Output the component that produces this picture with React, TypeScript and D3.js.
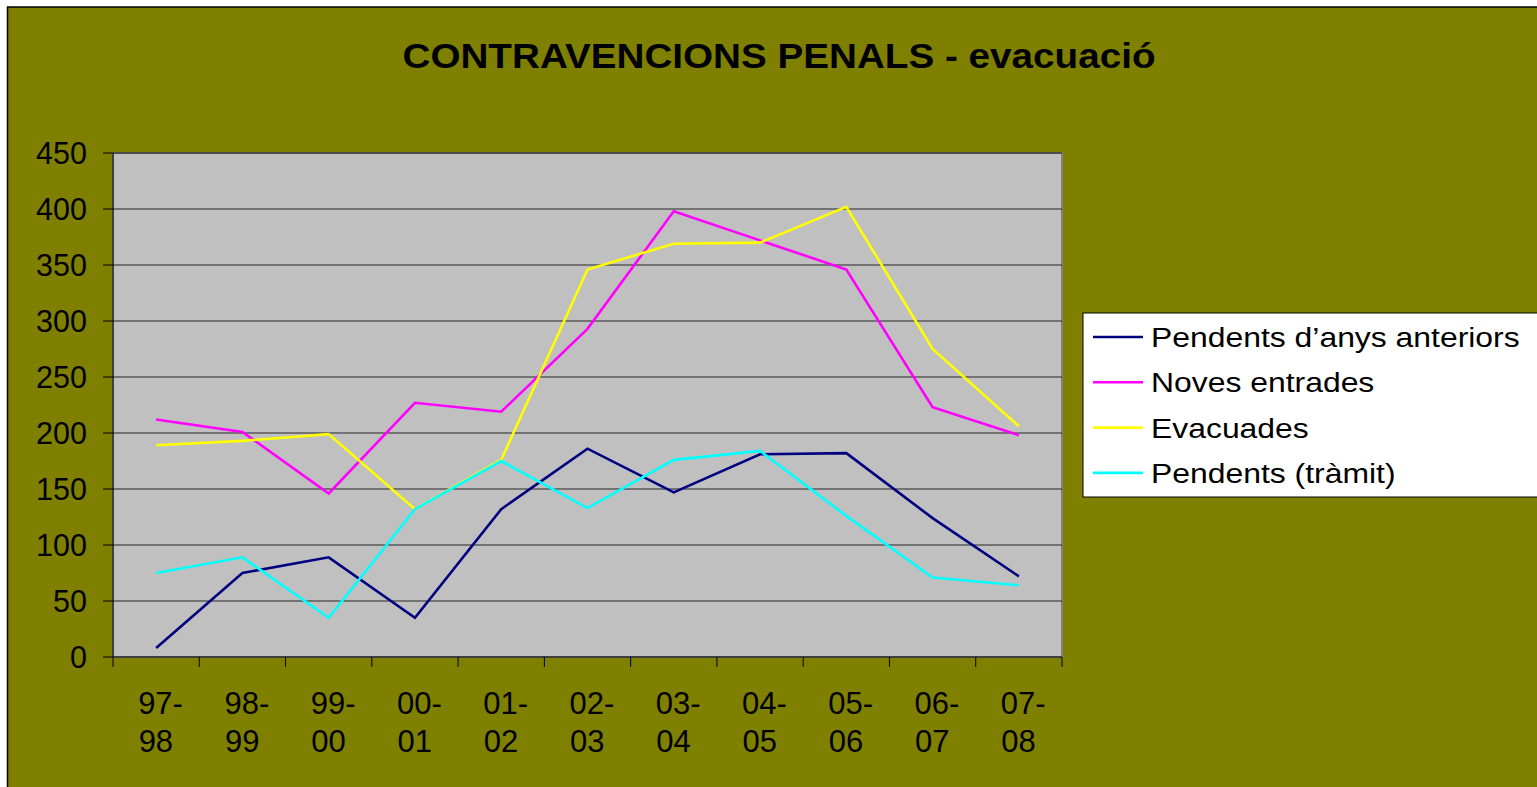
import React from "react";
import * as d3 from "d3";

const categories = ["97-98", "98-99", "99-00", "00-01", "01-02", "02-03", "03-04", "04-05", "05-06", "06-07", "07-08"];
const pendentsAnteriors = [8, 75, 89, 35, 132, 186, 147, 181, 182, 124, 72];
const novesEntrades = [212, 201, 146, 227, 219, 293, 398, 372, 346, 223, 198];
const evacuades = [189, 193, 199, 132, 176, 346, 369, 370, 402, 275, 206];
const pendentsTramit = [75, 89, 35, 132, 175, 133, 176, 184, 126, 71, 64];
const yTicks = [0, 50, 100, 150, 200, 250, 300, 350, 400, 450];
const seriesNames = ["Pendents d\u2019anys anteriors", "Noves entrades", "Evacuades", "Pendents (tr\u00e0mit)"];
const seriesColors = ["#000080", "#FF00FF", "#FFFF00", "#00FFFF"];
const title = "CONTRAVENCIONS PENALS - evacuaci\u00f3";

const W = 1537;
const H = 787;
const plot = { left: 113, right: 1062, top: 153, bottom: 657 };
const FONT = "'Liberation Sans', Arial, Helvetica, sans-serif";

export default function App() {
  const series = [pendentsAnteriors, novesEntrades, evacuades, pendentsTramit];
  const x = d3.scaleBand<string>().domain(categories).range([plot.left, plot.right]).padding(0);
  const y = d3.scaleLinear().domain([0, 450]).range([plot.bottom, plot.top]);
  const line = d3
    .line<number>()
    .x((_, i) => (x(categories[i]) as number) + x.bandwidth() / 2)
    .y((d) => y(d));
  const xTickPos = [...categories.map((c) => x(c) as number), plot.right];

  const legend = { x: 1083, y: 313, w: 470, h: 184, rowStart: 337, rowStep: 45.3 };

  return (
    <div style={{ position: "fixed", left: 0, top: 0, width: W, height: H, overflow: "hidden", background: "#fff" }}>
      <svg width={W} height={H} style={{ display: "block" }} fontFamily={FONT}>
        <rect x={7.5} y={7} width={W + 10} height={H + 10} fill="#808000" stroke="#000" strokeWidth={1.5} />
        <text
          x={779}
          y={67.5}
          textAnchor="middle"
          fontSize={34.5}
          fontWeight="bold"
          textLength={753}
          lengthAdjust="spacingAndGlyphs"
          fill="#000"
        >
          {title}
        </text>

        {/* plot area */}
        <rect
          x={plot.left}
          y={plot.top}
          width={plot.right - plot.left}
          height={plot.bottom - plot.top}
          fill="#C0C0C0"
          stroke="#808080"
          strokeWidth={2}
        />
        {yTicks
          .filter((t) => t > 0)
          .map((t) => (
            <line key={"g" + t} x1={plot.left} x2={plot.right} y1={y(t)} y2={y(t)} stroke="#000" strokeWidth={1} opacity={0.8} />
          ))}

        {/* axes */}
        <line x1={plot.left} x2={plot.left} y1={plot.top} y2={plot.bottom} stroke="#000" strokeWidth={1} />
        <line x1={plot.left} x2={plot.right} y1={plot.bottom} y2={plot.bottom} stroke="#000" strokeWidth={1} />
        {yTicks.map((t) => (
          <g key={"yt" + t}>
            <line x1={plot.left - 10} x2={plot.left} y1={y(t)} y2={y(t)} stroke="#000" strokeWidth={1} />
            <text x={87} y={y(t) + 11} textAnchor="end" fontSize={30.5} fill="#000">
              {t}
            </text>
          </g>
        ))}
        {xTickPos.map((p, i) => (
          <line key={"xt" + i} x1={p} x2={p} y1={plot.bottom} y2={plot.bottom + 10} stroke="#000" strokeWidth={1} />
        ))}
        {categories.map((c) => {
          const cx = (x(c) as number) + x.bandwidth() / 2;
          const [a, b] = c.split("-");
          return (
            <g key={"xl" + c}>
              <text x={cx - 18} y={714} fontSize={31} fill="#000">
                {a + "-"}
              </text>
              <text x={cx - 17.5} y={752} fontSize={31} fill="#000">
                {b}
              </text>
            </g>
          );
        })}

        {/* series lines */}
        {series.map((s, i) => (
          <path key={"s" + i} d={line(s) || ""} fill="none" stroke={seriesColors[i]} strokeWidth={2.6} strokeLinejoin="miter" />
        ))}

        {/* legend */}
        <rect x={legend.x} y={legend.y} width={legend.w} height={legend.h} fill="#fff" stroke="#000" strokeWidth={1} />
        {seriesNames.map((n, i) => {
          const cy = legend.rowStart + i * legend.rowStep;
          return (
            <g key={"lg" + i}>
              <line x1={1093} x2={1143} y1={cy} y2={cy} stroke={seriesColors[i]} strokeWidth={2.6} />
              <text transform={`translate(1151,${cy + 10}) scale(1.16,1)`} fontSize={27.5} fill="#000">
                {n}
              </text>
            </g>
          );
        })}
      </svg>
    </div>
  );
}
